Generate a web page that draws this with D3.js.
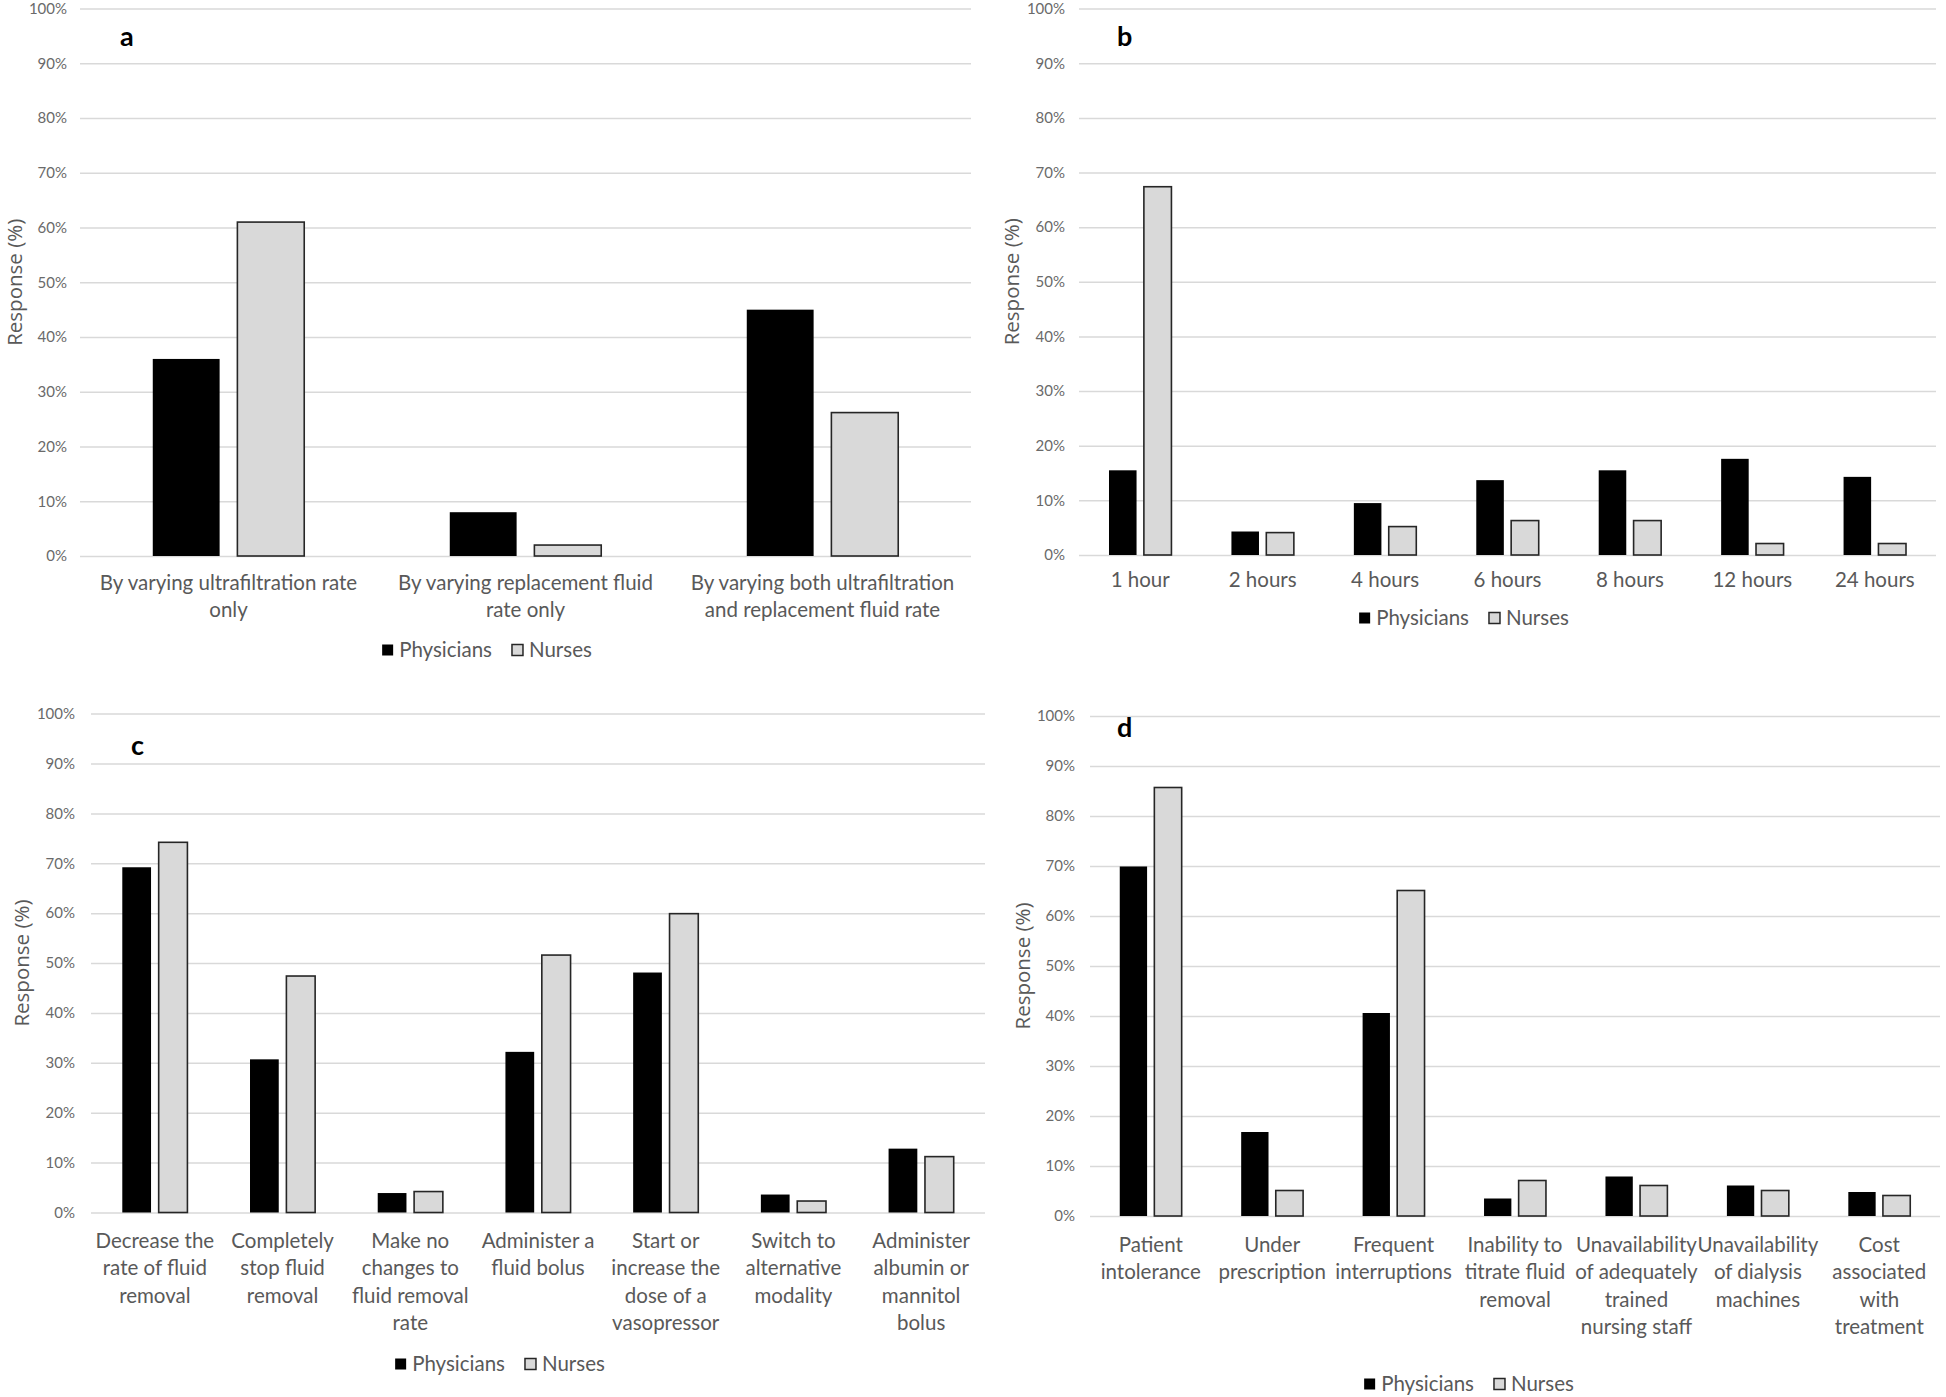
<!DOCTYPE html>
<html><head><meta charset="utf-8">
<script src="https://cdn.jsdelivr.net/npm/d3@7"></script>
<style>body{margin:0;background:#fff} svg{display:block}</style>
</head><body><svg id="c" width="1946" height="1397"></svg>
<script>
const series = ["Physicians", "Nurses"];
const yTicks = [0, 0.1, 0.2, 0.3, 0.4, 0.5, 0.6, 0.7, 0.8, 0.9, 1.0];
const yTitle = "Response (%)";

const catsA = ["By varying ultrafiltration rate\nonly", "By varying replacement fluid\nrate only", "By varying both ultrafiltration\nand replacement fluid rate"];
const physA = [36.0, 8.0, 45.0];
const nursA = [61.0, 2.0, 26.2];

const catsB = ["1 hour", "2 hours", "4 hours", "6 hours", "8 hours", "12 hours", "24 hours"];
const physB = [15.5, 4.3, 9.5, 13.7, 15.5, 17.6, 14.3];
const nursB = [67.4, 4.1, 5.2, 6.3, 6.3, 2.1, 2.1];

const catsC = ["Decrease the\nrate of fluid\nremoval", "Completely\nstop fluid\nremoval", "Make no\nchanges to\nfluid removal\nrate", "Administer a\nfluid bolus", "Start or\nincrease the\ndose of a\nvasopressor", "Switch to\nalternative\nmodality", "Administer\nalbumin or\nmannitol\nbolus"];
const physC = [69.2, 30.7, 3.9, 32.2, 48.1, 3.6, 12.8];
const nursC = [74.2, 47.4, 4.2, 51.6, 59.9, 2.3, 11.2];

const catsD = ["Patient\nintolerance", "Under\nprescription", "Frequent\ninterruptions", "Inability to\ntitrate fluid\nremoval", "Unavailability\nof adequately\ntrained\nnursing staff", "Unavailability\nof dialysis\nmachines", "Cost\nassociated\nwith\ntreatment"];
const physD = [69.9, 16.8, 40.6, 3.5, 7.9, 6.1, 4.8];
const nursD = [85.7, 5.1, 65.1, 7.1, 6.1, 5.1, 4.1];

const colors = {Physicians: "#000000", Nurses: "#d9d9d9"};
const FONT = "Lato, 'Liberation Sans', sans-serif";

const panels = [
  {letter: "a", cats: catsA, phys: physA, nurs: nursA, x0: 80, x1: 971, yTop: 8.6, yBot: 556, tickX: 67, lx: 120, ly: 46, titleX: 15, legendX: 487, legendY: 650, labelY: 590},
  {letter: "b", cats: catsB, phys: physB, nurs: nursB, x0: 1079, x1: 1936, yTop: 8.6, yBot: 555, tickX: 1065, lx: 1117, ly: 46, titleX: 1012, legendX: 1464, legendY: 618, labelY: 587},
  {letter: "c", cats: catsC, phys: physC, nurs: nursC, x0: 91, x1: 985, yTop: 713.6, yBot: 1212.5, tickX: 75, lx: 131, ly: 755, titleX: 22, legendX: 500, legendY: 1364, labelY: 1248},
  {letter: "d", cats: catsD, phys: physD, nurs: nursD, x0: 1090, x1: 1940, yTop: 716, yBot: 1216, tickX: 1075, lx: 1117, ly: 737, titleX: 1023, legendX: 1469, legendY: 1384, labelY: 1252}
];

const svg = d3.select("#c");
svg.append("rect").attr("width", 1946).attr("height", 1397).attr("fill", "#fff");

panels.forEach(p => {
  const g = svg.append("g");
  const x = d3.scaleBand().domain(p.cats).range([p.x0, p.x1]).paddingInner(0).paddingOuter(0);
  const xs = d3.scaleBand().domain(series).range([0, x.bandwidth()]).paddingInner(0.21).paddingOuter(0.86);
  const y = d3.scaleLinear().domain([0, 1]).range([p.yBot, p.yTop]);

  // y axis + gridlines
  const ya = g.append("g").attr("transform", `translate(${p.x0},0)`)
    .call(d3.axisLeft(y).tickValues(yTicks).tickFormat(d3.format(".0%"))
      .tickSize(-(p.x1 - p.x0)).tickPadding(p.x0 - p.tickX));
  ya.select(".domain").remove();
  ya.selectAll(".tick line").attr("stroke", "#d9d9d9").attr("stroke-width", 1.5);
  ya.selectAll(".tick text").attr("fill", "#6a6a6a").style("font-family", FONT).style("font-size", "15px");

  // y title
  g.append("text").attr("transform", `translate(${p.titleX},${(p.yTop + p.yBot) / 2}) rotate(-90)`)
    .attr("text-anchor", "middle").attr("dy", "0.35em")
    .style("font-family", "'Open Sans', sans-serif").style("font-size", "20.5px").attr("fill", "#595959")
    .text(yTitle);

  // bars
  const rows = p.cats.map((c, i) => ({cat: c, vals: [{s: "Physicians", v: p.phys[i]}, {s: "Nurses", v: p.nurs[i]}]}));
  const cg = g.selectAll(".cat").data(rows).join("g").attr("transform", d => `translate(${x(d.cat)},0)`);
  cg.selectAll("rect").data(d => d.vals).join("rect")
    .attr("x", d => xs(d.s)).attr("width", xs.bandwidth())
    .attr("y", d => y(d.v / 100)).attr("height", d => y(0) - y(d.v / 100))
    .attr("fill", d => colors[d.s])
    .attr("stroke", d => d.s === "Nurses" ? "#262626" : "none")
    .attr("stroke-width", 1.6);

  // x axis labels
  const xa = g.append("g").attr("transform", `translate(0,${p.labelY})`)
    .call(d3.axisBottom(x).tickSize(0).tickPadding(0));
  xa.select(".domain").remove();
  xa.selectAll(".tick text").each(function(d) {
    const t = d3.select(this);
    t.text(null).attr("y", 0).attr("dy", null)
      .attr("fill", "#595959").style("font-family", FONT).style("font-size", "20.5px");
    d.split("\n").forEach((line, i) => {
      t.append("tspan").attr("x", 0).attr("y", i * 27.3).text(line);
    });
  });

  // panel letter
  g.append("text").attr("x", p.lx).attr("y", p.ly).text(p.letter)
    .style("font-family", FONT).style("font-weight", "bold").style("font-size", "27px").attr("fill", "#000");

  // legend
  const lg = g.append("g");
  const sq = 11, gapT = 6, gapItem = 20;
  let cx = 0;
  series.forEach(s => {
    const it = lg.append("g").attr("transform", `translate(${cx},0)`);
    it.append("rect").attr("x", 0).attr("y", -sq / 2).attr("width", sq).attr("height", sq)
      .attr("fill", colors[s]).attr("stroke", s === "Nurses" ? "#262626" : "none").attr("stroke-width", 1.5);
    const tx = it.append("text").attr("x", sq + gapT).attr("y", 0).attr("dy", "0.35em").text(s)
      .style("font-family", FONT).style("font-size", "20.5px").attr("fill", "#595959");
    cx += sq + gapT + tx.node().getComputedTextLength() + gapItem;
  });
  const totalW = cx - gapItem;
  lg.attr("transform", `translate(${p.legendX - totalW / 2},${p.legendY})`);
});
</script>
</body></html>
